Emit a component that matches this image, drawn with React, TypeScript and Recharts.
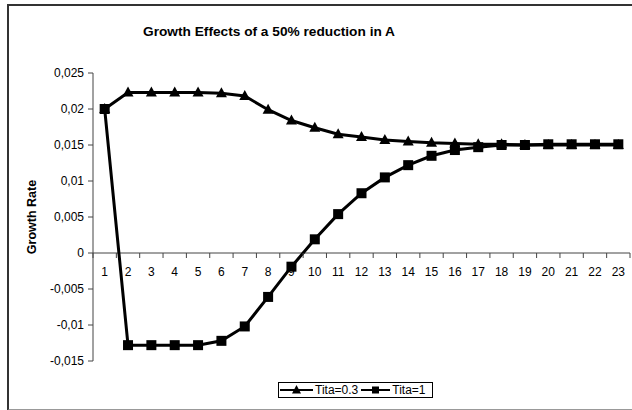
import { LineChart, Line, XAxis, YAxis, Legend, ReferenceLine } from "recharts";

const categories = [
  "1", "2", "3", "4", "5", "6", "7", "8", "9", "10", "11", "12",
  "13", "14", "15", "16", "17", "18", "19", "20", "21", "22", "23",
];
// Tita=0.3 (triangles)
const titaLow = [
  0.02, 0.0223, 0.0223, 0.0223, 0.0223, 0.0222, 0.0218, 0.0199, 0.0184, 0.0174, 0.0165, 0.0161,
  0.0157, 0.0155, 0.0153, 0.0152, 0.0151, 0.0151, 0.015, 0.015, 0.015, 0.015, 0.015,
];
// Tita=1 (squares)
const titaHigh = [
  0.02, -0.0128, -0.0128, -0.0128, -0.0128, -0.0122, -0.0102, -0.0061, -0.0019, 0.0019, 0.0054, 0.0083,
  0.0105, 0.0122, 0.0135, 0.0143, 0.0147, 0.015, 0.015, 0.0151, 0.0151, 0.0151, 0.0151,
];
const yTicks = [-0.015, -0.01, -0.005, 0, 0.005, 0.01, 0.015, 0.02, 0.025];

const data = categories.map((c, i) => ({ cat: c, low: titaLow[i], high: titaHigh[i] }));

const FONT = '"Liberation Sans", Arial, sans-serif';
const W = 632;
const H = 410;
const X_AXIS_H = 49;
const M = { top: 73, right: 2, bottom: 0, left: 0 };
const Y_AXIS_W = 93;
const plotW = W - M.left - M.right - Y_AXIS_W;
const plotH = H - M.top - M.bottom - X_AXIS_H;
const yMin = -0.015;
const yMax = 0.025;
const zeroY = M.top + (plotH * yMax) / (yMax - yMin);
const band = plotW / categories.length;

const fmt = (v: number) => (v === 0 ? "0" : String(v).replace(".", ","));

const Triangle = ({ cx, cy }: any) =>
  cx == null ? null : (
    <polygon points={`${cx},${cy - 6} ${cx + 5.5},${cy + 4} ${cx - 5.5},${cy + 4}`} fill="#000" />
  );
const Square = ({ cx, cy }: any) =>
  cx == null ? null : <rect x={cx - 5} y={cy - 5} width={10} height={10} fill="#000" />;

const CatTick = ({ x, payload, index }: any) => (
  <g>
    <line x1={x - band / 2} x2={x - band / 2} y1={zeroY} y2={zeroY + 5} stroke="#444" />
    {index === categories.length - 1 ? (
      <line x1={x + band / 2} x2={x + band / 2} y1={zeroY} y2={zeroY + 5} stroke="#444" />
    ) : null}
    <text x={x} y={zeroY + 23} textAnchor="middle" fontSize={12} fontFamily={FONT} fill="#000">
      {payload.value}
    </text>
  </g>
);

const LegendBox = () => (
  <div
    style={{
      border: "1px solid #000",
      background: "#fff",
      display: "flex",
      alignItems: "center",
      height: 14,
      padding: "0 6px 0 1px",
      fontFamily: FONT,
      fontSize: 12,
      whiteSpace: "nowrap",
    }}
  >
    <svg width={33} height={12}>
      <line x1={0} x2={33} y1={6} y2={6} stroke="#000" strokeWidth={2} />
      <polygon points="16.5,1 21,9.5 12,9.5" fill="#000" />
    </svg>
    <span style={{ marginLeft: 2, marginRight: 3 }}>Tita=0.3</span>
    <svg width={29} height={12}>
      <line x1={0} x2={29} y1={6} y2={6} stroke="#000" strokeWidth={2} />
      <rect x={11} y={2.5} width={7} height={7} fill="#000" />
    </svg>
    <span style={{ marginLeft: 2 }}>Tita=1</span>
  </div>
);

export default function App() {
  return (
    <div
      style={{
        position: "fixed",
        left: 0,
        top: 0,
        width: W,
        height: H,
        overflow: "hidden",
        background: "#fff",
      }}
    >
      <div
        style={{
          position: "absolute",
          left: 7,
          top: 4,
          width: 660,
          height: 403,
          borderTop: "2px solid #333",
          borderLeft: "2px solid #333",
          borderBottom: "2px solid #999",
        }}
      />
      <div
        style={{
          position: "absolute",
          left: 0,
          width: 538,
          top: 24,
          textAlign: "center",
          fontFamily: FONT,
          fontWeight: 700,
          fontSize: 13.7,
          color: "#000",
        }}
      >
        Growth Effects of a 50% reduction in A
      </div>
      <LineChart width={W} height={H} data={data} margin={M} style={{ position: "absolute", left: 0, top: 0 }}>
        <XAxis
          dataKey="cat"
          axisLine={false}
          tickLine={false}
          tick={<CatTick />}
          interval={0}
          height={X_AXIS_H}
          padding={{ left: band / 2, right: band / 2 }}
        />
        <YAxis
          width={Y_AXIS_W}
          domain={[yMin, yMax]}
          ticks={yTicks}
          interval={0}
          tickFormatter={fmt}
          tickSize={5}
          tickMargin={4}
          stroke="#444"
          tick={{ fontSize: 12, fontFamily: FONT, fill: "#000" }}
          label={{
            value: "Growth Rate",
            angle: -90,
            position: "center",
            dx: -15,
            style: { fontSize: 12.5, fontWeight: 700, fontFamily: FONT, fill: "#000" },
          }}
        />
        <ReferenceLine y={0} stroke="#444" />
        <Line
          dataKey="low"
          name="Tita=0.3"
          stroke="#000"
          strokeWidth={3}
          dot={<Triangle />}
          isAnimationActive={false}
        />
        <Line
          dataKey="high"
          name="Tita=1"
          stroke="#000"
          strokeWidth={3}
          dot={<Square />}
          isAnimationActive={false}
        />
        <Legend
          layout="horizontal"
          verticalAlign="middle"
          align="center"
          content={<LegendBox />}
          wrapperStyle={{ top: 382, left: 278, width: "auto" }}
        />
      </LineChart>
    </div>
  );
}
